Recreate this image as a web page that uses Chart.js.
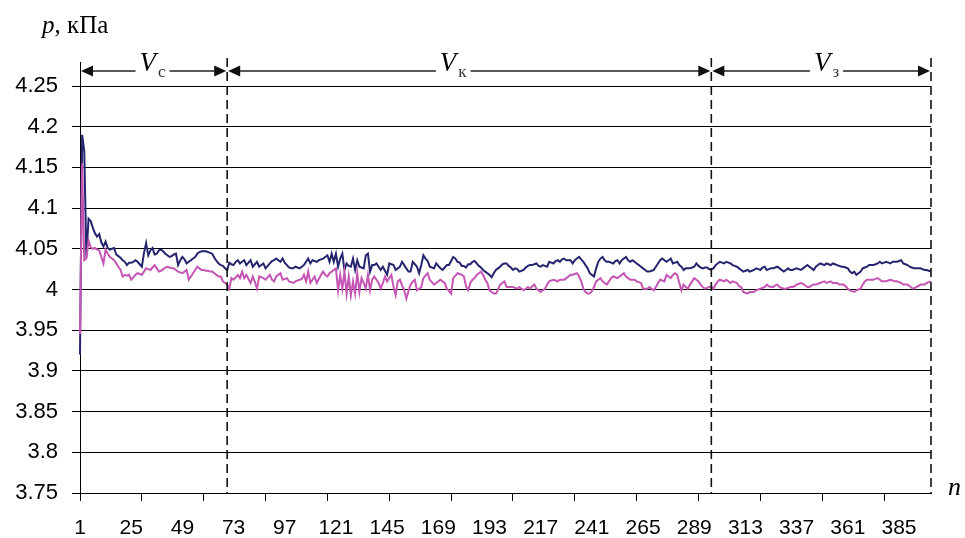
<!DOCTYPE html>
<html>
<head>
<meta charset="utf-8">
<script src="https://cdn.jsdelivr.net/npm/chart.js@4.4.0/dist/chart.umd.min.js"></script>
<style>
  html, body { margin: 0; padding: 0; background: #fff; }
  #wrap { width: 965px; height: 538px; }
</style>
</head>
<body>
<div id="wrap"><canvas id="grafico" width="965" height="538"></canvas></div>
<script>
// номера измерений n = 1..400
const nLabels = Array.from({ length: 400 }, (_, i) => String(i + 1));
const yTicks = [3.75, 3.8, 3.85, 3.9, 3.95, 4, 4.05, 4.1, 4.15, 4.2, 4.25];

// тёмно-синяя кривая
const pressaoA = [
  3.920, 4.190, 4.170, 4.040, 4.087, 4.084, 4.076, 4.069, 4.065, 4.068,
  4.058, 4.053, 4.059, 4.051, 4.049, 4.050, 4.051, 4.043, 4.041, 4.039,
  4.036, 4.034, 4.030, 4.033, 4.033, 4.034, 4.036, 4.034, 4.031, 4.028,
  4.045, 4.057, 4.042, 4.048, 4.051, 4.043, 4.044, 4.048, 4.049, 4.047,
  4.044, 4.042, 4.040, 4.041, 4.043, 4.044, 4.030, 4.036, 4.040, 4.037,
  4.032, 4.034, 4.036, 4.038, 4.040, 4.044, 4.046, 4.047, 4.047, 4.047,
  4.046, 4.045, 4.044, 4.039, 4.035, 4.032, 4.030, 4.029, 4.026, 4.024,
  4.033, 4.031, 4.030, 4.034, 4.036, 4.032, 4.034, 4.036, 4.030, 4.033,
  4.036, 4.028, 4.031, 4.034, 4.028, 4.030, 4.032, 4.026, 4.029, 4.032,
  4.035, 4.036, 4.038, 4.036, 4.034, 4.038, 4.033, 4.030, 4.027, 4.026,
  4.026, 4.028, 4.027, 4.026, 4.028, 4.030, 4.034, 4.038, 4.032, 4.036,
  4.035, 4.034, 4.036, 4.037, 4.038, 4.040, 4.042, 4.034, 4.044, 4.034,
  4.044, 4.028, 4.038, 4.044, 4.024, 4.032, 4.029, 4.028, 4.038, 4.024,
  4.036, 4.028, 4.027, 4.026, 4.042, 4.044, 4.022, 4.030, 4.030, 4.032,
  4.028, 4.024, 4.028, 4.023, 4.018, 4.032, 4.031, 4.030, 4.024, 4.026,
  4.028, 4.034, 4.030, 4.026, 4.022, 4.022, 4.034, 4.031, 4.028, 4.020,
  4.030, 4.042, 4.038, 4.035, 4.028, 4.027, 4.026, 4.032, 4.029, 4.026,
  4.024, 4.027, 4.030, 4.030, 4.035, 4.040, 4.038, 4.034, 4.033, 4.029,
  4.029, 4.027, 4.031, 4.031, 4.034, 4.035, 4.032, 4.029, 4.027, 4.024,
  4.022, 4.020, 4.018, 4.015, 4.020, 4.024, 4.026, 4.028, 4.031, 4.032,
  4.032, 4.029, 4.027, 4.024, 4.026, 4.025, 4.022, 4.023, 4.024, 4.027,
  4.029, 4.030, 4.030, 4.031, 4.032, 4.029, 4.028, 4.030, 4.029, 4.028,
  4.034, 4.033, 4.032, 4.035, 4.036, 4.034, 4.037, 4.038, 4.036, 4.036,
  4.036, 4.032, 4.036, 4.038, 4.040, 4.037, 4.034, 4.030, 4.026, 4.020,
  4.018, 4.016, 4.026, 4.034, 4.038, 4.040, 4.036, 4.034, 4.034, 4.033,
  4.032, 4.035, 4.036, 4.032, 4.036, 4.038, 4.040, 4.036, 4.034, 4.036,
  4.034, 4.032, 4.030, 4.028, 4.026, 4.024, 4.022, 4.022, 4.023, 4.024,
  4.028, 4.032, 4.036, 4.038, 4.036, 4.034, 4.036, 4.038, 4.032, 4.033,
  4.034, 4.030, 4.028, 4.024, 4.026, 4.026, 4.026, 4.027, 4.028, 4.032,
  4.029, 4.027, 4.026, 4.027, 4.027, 4.025, 4.025, 4.026, 4.030, 4.032,
  4.034, 4.033, 4.032, 4.034, 4.033, 4.032, 4.030, 4.029, 4.028, 4.026,
  4.024, 4.022, 4.023, 4.024, 4.022, 4.023, 4.024, 4.026, 4.025, 4.024,
  4.027, 4.028, 4.024, 4.025, 4.026, 4.026, 4.027, 4.028, 4.026, 4.024,
  4.022, 4.024, 4.026, 4.024, 4.024, 4.025, 4.026, 4.025, 4.024, 4.026,
  4.028, 4.030, 4.028, 4.026, 4.024, 4.028, 4.030, 4.032, 4.031, 4.030,
  4.032, 4.031, 4.030, 4.032, 4.031, 4.030, 4.029, 4.028, 4.028, 4.027,
  4.026, 4.022, 4.020, 4.022, 4.018, 4.020, 4.022, 4.026, 4.027, 4.028,
  4.030, 4.030, 4.030, 4.031, 4.032, 4.034, 4.032, 4.033, 4.034, 4.033,
  4.032, 4.034, 4.034, 4.034, 4.035, 4.036, 4.032, 4.031, 4.030, 4.028,
  4.027, 4.026, 4.026, 4.026, 4.026, 4.025, 4.024, 4.024, 4.023, 4.022
];

// розовая кривая
const pressaoB = [
  3.945, 4.155, 4.036, 4.038, 4.060, 4.052, 4.050, 4.051, 4.049, 4.048,
  4.040, 4.032, 4.049, 4.044, 4.040, 4.038, 4.036, 4.032, 4.028, 4.024,
  4.016, 4.018, 4.017, 4.018, 4.012, 4.015, 4.018, 4.020, 4.019, 4.018,
  4.022, 4.026, 4.025, 4.024, 4.027, 4.030, 4.026, 4.022, 4.023, 4.025,
  4.027, 4.028, 4.027, 4.026, 4.026, 4.024, 4.022, 4.021, 4.020, 4.022,
  4.024, 4.012, 4.016, 4.020, 4.024, 4.028, 4.026, 4.024, 4.024, 4.023,
  4.023, 4.022, 4.022, 4.020, 4.018, 4.016, 4.016, 4.010, 4.008, 4.006,
  4.001, 4.014, 4.012, 4.015, 4.018, 4.014, 4.022, 4.014, 4.018, 4.013,
  4.008, 4.016, 4.009, 4.001, 4.016, 4.015, 4.014, 4.012, 4.015, 4.018,
  4.012, 4.010, 4.016, 4.018, 4.020, 4.012, 4.013, 4.014, 4.010, 4.009,
  4.008, 4.010, 4.011, 4.012, 4.013, 4.018, 4.010, 4.022, 4.008, 4.012,
  4.016, 4.008, 4.013, 4.018, 4.022, 4.018, 4.016, 4.020, 4.022, 4.024,
  4.026, 3.999, 4.018, 4.001, 4.022, 3.995, 4.016, 3.993, 4.010, 3.995,
  4.020, 3.997, 4.014, 4.008, 4.001, 4.018, 3.999, 4.012, 4.016, 4.012,
  4.008, 4.001, 4.008, 4.016, 4.010, 4.014, 4.018, 4.003, 3.993, 4.010,
  4.012, 4.005, 3.999, 3.989, 3.998, 4.006, 4.010, 4.012, 3.999, 4.001,
  4.003, 4.014, 4.017, 4.020, 4.012, 4.009, 4.006, 4.008, 4.010, 4.012,
  4.010, 4.008, 4.001, 3.998, 3.995, 4.014, 4.017, 4.020, 4.019, 4.018,
  4.016, 4.004, 3.999, 4.008, 4.012, 4.014, 4.018, 4.020, 4.022, 4.018,
  4.012, 4.008, 3.999, 3.997, 3.995, 3.995, 4.000, 4.006, 4.008, 4.010,
  4.003, 4.003, 4.003, 4.003, 4.002, 4.001, 4.003, 4.001, 3.999, 4.001,
  4.003, 4.001, 4.004, 4.006, 4.001, 3.999, 3.997, 3.999, 4.001, 4.006,
  4.010, 4.011, 4.012, 4.011, 4.010, 4.012, 4.012, 4.012, 4.014, 4.016,
  4.018, 4.018, 4.019, 4.020, 4.016, 4.010, 4.001, 3.997, 3.995, 3.995,
  3.998, 4.003, 4.010, 4.012, 4.014, 4.010, 4.008, 4.006, 4.010, 4.014,
  4.016, 4.015, 4.014, 4.016, 4.018, 4.020, 4.016, 4.014, 4.012, 4.012,
  4.012, 4.010, 4.009, 4.008, 4.001, 4.001, 4.001, 4.003, 4.001, 3.999,
  4.003, 4.008, 4.012, 4.011, 4.010, 4.018, 4.016, 4.014, 4.018, 4.020,
  4.018, 4.008, 3.999, 4.006, 4.003, 4.001, 4.006, 4.010, 4.014, 4.012,
  4.010, 4.006, 4.003, 4.001, 4.002, 4.003, 4.004, 4.001, 4.006, 4.010,
  4.012, 4.011, 4.010, 4.012, 4.010, 4.008, 4.010, 4.009, 4.008, 4.004,
  4.003, 3.997, 3.996, 3.995, 3.997, 3.997, 3.997, 3.999, 4.000, 4.001,
  4.002, 4.003, 4.006, 4.004, 4.003, 4.003, 4.005, 4.006, 4.003, 4.002,
  4.001, 4.001, 4.002, 4.003, 4.003, 4.004, 4.006, 4.007, 4.008, 4.007,
  4.005, 4.003, 4.003, 4.005, 4.006, 4.006, 4.007, 4.008, 4.009, 4.010,
  4.008, 4.009, 4.010, 4.008, 4.008, 4.008, 4.006, 4.006, 4.006, 4.004,
  4.001, 3.999, 3.998, 3.997, 3.999, 4.000, 4.001, 4.006, 4.010, 4.012,
  4.012, 4.012, 4.012, 4.013, 4.014, 4.012, 4.010, 4.010, 4.010, 4.011,
  4.012, 4.011, 4.010, 4.010, 4.009, 4.008, 4.006, 4.006, 4.006, 4.004,
  4.002, 4.001, 4.003, 4.004, 4.006, 4.006, 4.006, 4.008, 4.009, 4.010
];

// границы участков Vс, Vк, Vз (номера n) и подписи
const limites = [1, 70, 297, 400];
const trechoIndices = ['с', 'к', 'з'];
const trechoCentros = [35, 176, 351];

const passoRotulo = 24;   // подпись каждые 24 значения
const passoMarca = 29;    // деления оси каждые 29 значений

const serif = '"Liberation Serif", "Times New Roman", "DejaVu Serif", serif';

const anotacoes = {
    id: 'anotacoes',
    afterDraw(chart) {
        const ctx = chart.ctx;
        const a = chart.chartArea;
        const x = chart.scales.x;
        const px = n => x.getPixelForValue(n - 1);
        const ySeta = a.top - 15;

        ctx.save();
        // продолжение оси p вверх
        ctx.strokeStyle = '#000';
        ctx.lineWidth = 1;
        ctx.beginPath();
        ctx.moveTo(Math.round(a.left) + 0.5, a.top - 24);
        ctx.lineTo(Math.round(a.left) + 0.5, a.top);
        ctx.stroke();

        // пунктирные границы
        ctx.setLineDash([9, 5]);
        ctx.lineWidth = 1.6;
        ctx.strokeStyle = '#111';
        limites.slice(1).forEach(n => {
            const xx = px(n);
            ctx.beginPath();
            ctx.moveTo(xx, a.top - 28);
            ctx.lineTo(xx, a.bottom);
            ctx.stroke();
        });
        ctx.setLineDash([]);

        // стрелки с подписями
        ctx.strokeStyle = '#222';
        ctx.fillStyle = '#111';
        ctx.lineWidth = 1.4;
        const seta = (xx, dir) => {
            ctx.beginPath();
            ctx.moveTo(xx, ySeta);
            ctx.lineTo(xx - dir * 12, ySeta - 5.5);
            ctx.lineTo(xx - dir * 12, ySeta + 5.5);
            ctx.closePath();
            ctx.fill();
        };
        for (let i = 0; i < 3; i++) {
            const x0 = px(limites[i]) + 1;
            const x1 = px(limites[i + 1]) - 1;
            const xc = px(trechoCentros[i]);

            ctx.font = 'italic 27px ' + serif;
            const wV = ctx.measureText('V').width;
            ctx.font = '17px ' + serif;
            const wS = ctx.measureText(trechoIndices[i]).width;
            const wT = wV + 2 + wS;
            const g0 = xc - wT / 2 - 4;
            const g1 = xc + wT / 2 + 4;

            ctx.beginPath();
            ctx.moveTo(x0 + 10, ySeta);
            ctx.lineTo(g0, ySeta);
            ctx.moveTo(g1, ySeta);
            ctx.lineTo(x1 - 10, ySeta);
            ctx.stroke();
            seta(x0, -1);
            seta(x1, 1);

            ctx.fillStyle = '#000';
            ctx.textAlign = 'left';
            ctx.textBaseline = 'alphabetic';
            ctx.font = 'italic 27px ' + serif;
            ctx.fillText('V', xc - wT / 2, ySeta);
            ctx.fillStyle = '#333';
            ctx.font = '17px ' + serif;
            ctx.fillText(trechoIndices[i], xc - wT / 2 + wV + 2, ySeta + 6);
            ctx.fillStyle = '#111';
        }

        // подписи осей
        ctx.fillStyle = '#000';
        ctx.textBaseline = 'alphabetic';
        ctx.font = 'italic 25px ' + serif;
        ctx.fillText('p', 42, 33);
        const wp = ctx.measureText('p').width;
        ctx.font = '25px ' + serif;
        ctx.fillText(', кПа', 42 + wp, 33);
        ctx.font = 'italic 26px ' + serif;
        ctx.fillText('n', a.right + 17, a.bottom + 2);
        ctx.restore();
    }
};

const grafico = new Chart(document.getElementById('grafico'), {
    type: 'line',
    data: {
        labels: nLabels,
        datasets: [
            {
                label: 'p1',
                data: pressaoB,
                borderColor: '#c456b4',
                borderWidth: 2,
                pointRadius: 0,
                tension: 0
            },
            {
                label: 'p2',
                data: pressaoA,
                borderColor: '#25256f',
                borderWidth: 2,
                pointRadius: 0,
                tension: 0
            }
        ]
    },
    options: {
        responsive: false,
        animation: false,
        devicePixelRatio: 1,
        layout: { padding: { top: 86, right: 34, left: 0, bottom: 0 } },
        plugins: { legend: { display: false }, tooltip: { enabled: false } },
        scales: {
            x: {
                type: 'category',
                offset: false,
                afterFit: s => { s.height = 45; },
                border: { display: true, color: '#000', width: 1 },
                grid: {
                    drawOnChartArea: false,
                    drawTicks: true,
                    tickLength: 8,
                    color: c => (c.index % passoMarca === 0 ? '#000' : 'rgba(0,0,0,0)')
                },
                ticks: {
                    autoSkip: false,
                    maxRotation: 0,
                    minRotation: 0,
                    padding: 15,
                    color: '#000',
                    font: { family: '"Liberation Sans", Arial, sans-serif', size: 21 },
                    callback: function (v, i) {
                        return i % passoRotulo === 0 ? this.getLabelForValue(v) : '';
                    }
                }
            },
            y: {
                min: 3.75,
                max: 4.25,
                afterFit: s => { s.width = 80; },
                afterBuildTicks: s => { s.ticks = yTicks.map(v => ({ value: v })); },
                border: { display: true, color: '#000', width: 1 },
                grid: { color: '#000', lineWidth: 1, tickLength: 8 },
                ticks: {
                    padding: 14,
                    color: '#000',
                    font: { family: '"Liberation Sans", Arial, sans-serif', size: 22 },
                    callback: v => String(+v.toFixed(2))
                }
            }
        }
    },
    plugins: [anotacoes]
});
</script>
</body>
</html>
